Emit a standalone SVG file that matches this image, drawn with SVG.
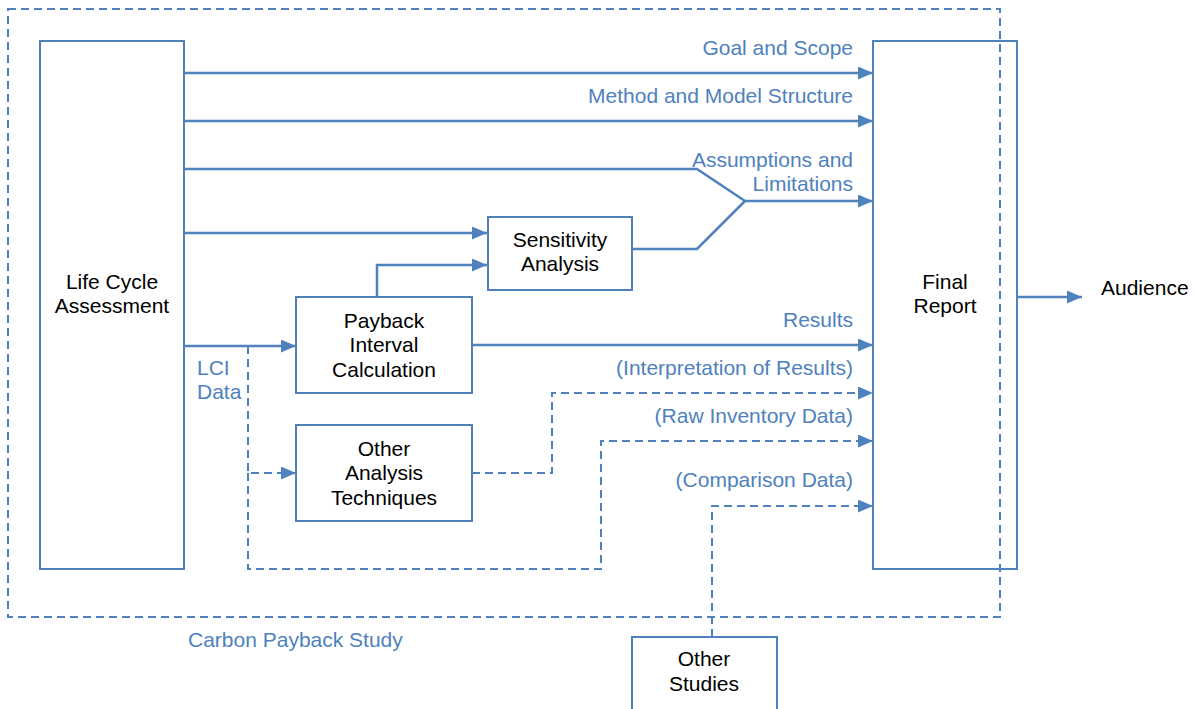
<svg xmlns="http://www.w3.org/2000/svg" width="1195" height="709" viewBox="0 0 1195 709">
  <style>
    .box { fill: #ffffff; stroke: #4f81bd; stroke-width: 2; }
    .open { fill: none; }
    .line { fill: none; stroke: #4f81bd; stroke-width: 2.5; }
    .dash { fill: none; stroke: #4f81bd; stroke-width: 2; stroke-dasharray: 8 5; }
    .lbl { font-family: "Liberation Sans", Arial, sans-serif; font-size: 21px; fill: #4f81bd; }
    .txt { font-family: "Liberation Sans", Arial, sans-serif; font-size: 21px; fill: #000000; text-anchor: middle; }
    .r { text-anchor: end; }
  </style>
  <defs>
    <marker id="arrow" markerUnits="userSpaceOnUse" markerWidth="15" markerHeight="13" refX="15" refY="6.5" orient="auto">
      <path d="M0,0 L15,6.5 L0,13 Z" fill="#4f81bd"/>
    </marker>
  </defs>

  <rect width="1195" height="709" fill="#ffffff"/>

  <!-- study boundary -->
  <g id="study">
    <rect x="8" y="9" width="992" height="608" class="dash" fill="none"/>
    <text x="188" y="647" class="lbl">Carbon Payback Study</text>
  </g>

  <g id="lca">
    <rect x="40" y="41" width="144" height="528" class="box"/>
    <text x="112" y="289" class="txt">Life Cycle</text>
    <text x="112" y="313" class="txt">Assessment</text>
  </g>

  <!-- unfilled so the study boundary shows through it -->
  <g id="final-report">
    <rect x="873" y="41" width="144" height="528" class="box open"/>
    <text x="945" y="289" class="txt">Final</text>
    <text x="945" y="313" class="txt">Report</text>
  </g>

  <g id="sensitivity">
    <rect x="488" y="217" width="144" height="73" class="box"/>
    <text x="560" y="247" class="txt">Sensitivity</text>
    <text x="560" y="271" class="txt">Analysis</text>
  </g>

  <g id="payback">
    <rect x="296" y="297" width="176" height="96" class="box"/>
    <text x="384" y="328" class="txt">Payback</text>
    <text x="384" y="352" class="txt">Interval</text>
    <text x="384" y="377" class="txt">Calculation</text>
  </g>

  <g id="other-analysis">
    <rect x="296" y="425" width="176" height="96" class="box"/>
    <text x="384" y="456" class="txt">Other</text>
    <text x="384" y="480" class="txt">Analysis</text>
    <text x="384" y="505" class="txt">Techniques</text>
  </g>

  <g id="other-studies">
    <rect x="632" y="637" width="145" height="80" class="box"/>
    <text x="704" y="666" class="txt">Other</text>
    <text x="704" y="691" class="txt">Studies</text>
  </g>

  <g id="audience">
    <text x="1101" y="295" class="txt" style="text-anchor:start">Audience</text>
  </g>

  <g id="connectors">
    <!-- solid flows -->
    <path d="M184,73 H873" class="line" marker-end="url(#arrow)"/>
    <path d="M184,121 H873" class="line" marker-end="url(#arrow)"/>
    <path d="M184,169 H697 L745,201" class="line"/>
    <path d="M632,249 H697 L745,201" class="line"/>
    <path d="M745,201 H873" class="line" marker-end="url(#arrow)"/>
    <path d="M184,233 H487" class="line" marker-end="url(#arrow)"/>
    <path d="M377,297 V265 H487" class="line" marker-end="url(#arrow)"/>
    <path d="M184,346 H296" class="line" marker-end="url(#arrow)"/>
    <path d="M472,345 H873" class="line" marker-end="url(#arrow)"/>
    <path d="M1017,297 H1082" class="line" marker-end="url(#arrow)"/>

    <!-- dashed flows -->
    <path d="M248,346 V473 H296" class="dash" marker-end="url(#arrow)"/>
    <path d="M248,473 V569 H601 V441 H873" class="dash" marker-end="url(#arrow)"/>
    <path d="M472,473 H552 V393 H873" class="dash" marker-end="url(#arrow)"/>
    <path d="M712,637 V506 H873" class="dash" marker-end="url(#arrow)"/>

    <!-- flow labels -->
    <text x="853" y="55" class="lbl r">Goal and Scope</text>
    <text x="853" y="103" class="lbl r">Method and Model Structure</text>
    <text x="853" y="167" class="lbl r">Assumptions and</text>
    <text x="853" y="191" class="lbl r">Limitations</text>
    <text x="853" y="327" class="lbl r">Results</text>
    <text x="853" y="375" class="lbl r">(Interpretation of Results)</text>
    <text x="853" y="423" class="lbl r">(Raw Inventory Data)</text>
    <text x="853" y="487" class="lbl r">(Comparison Data)</text>
    <text x="197" y="375" class="lbl">LCI</text>
    <text x="197" y="399" class="lbl">Data</text>
  </g>
</svg>
